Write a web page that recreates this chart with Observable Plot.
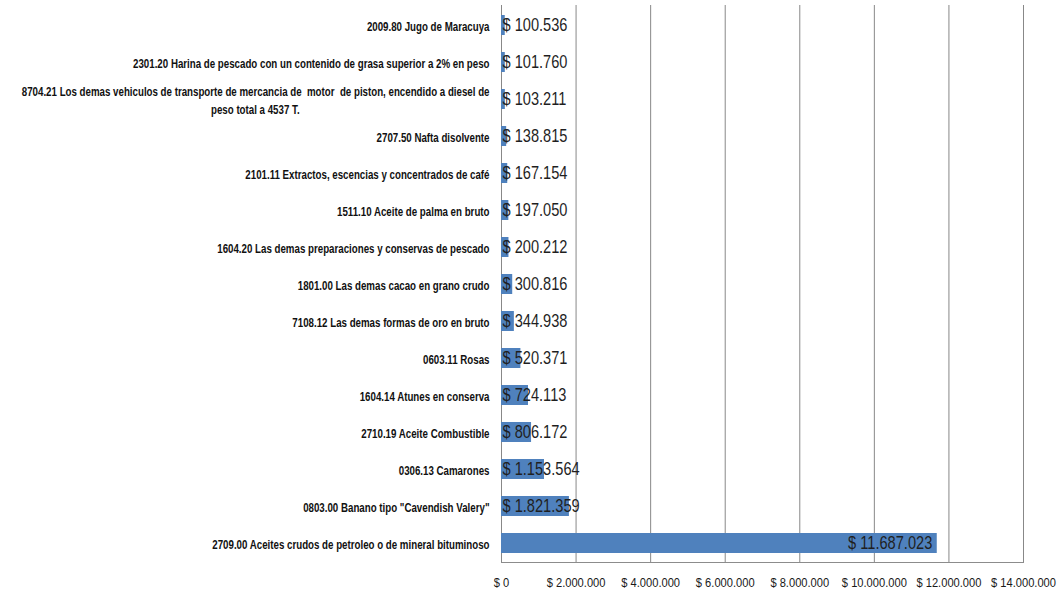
<!DOCTYPE html>
<html><head><meta charset="utf-8">
<script src="https://cdn.jsdelivr.net/npm/d3@7"></script>
<script src="https://cdn.jsdelivr.net/npm/@observablehq/plot@0.6"></script>
<style>
html,body{margin:0;padding:0;background:#fff;}
#chart{width:1061px;height:592px;}
</style></head><body><div id="chart"></div>
<script>
const products = [
  "2009.80 Jugo de Maracuya",
  "2301.20 Harina de pescado con un contenido de grasa superior a 2% en peso",
  "8704.21 Los demas vehiculos de transporte de mercancia de  motor  de piston, encendido a diesel de\npeso total a 4537 T.",
  "2707.50 Nafta disolvente",
  "2101.11 Extractos, escencias y concentrados de café",
  "1511.10 Aceite de palma en bruto",
  "1604.20 Las demas preparaciones y conservas de pescado",
  "1801.00 Las demas cacao en grano crudo",
  "7108.12 Las demas formas de oro en bruto",
  "0603.11 Rosas",
  "1604.14 Atunes en conserva",
  "2710.19 Aceite Combustible",
  "0306.13 Camarones",
  "0803.00 Banano tipo \"Cavendish Valery\"",
  "2709.00 Aceites crudos de petroleo o de mineral bituminoso"
];
const values = [100536, 101760, 103211, 138815, 167154, 197050, 200212, 300816, 344938, 520371, 724113, 806172, 1153564, 1821359, 11687023];
const xTicks = [0, 2000000, 4000000, 6000000, 8000000, 10000000, 12000000, 14000000];

const data = products.map((p, i) => ({product: p, value: values[i]}));
const fmt = v => "$ " + d3.format(",")(v).replace(/,/g, ".");
const font = "'Liberation Sans', Arial, sans-serif";
const maxV = d3.max(values);

const chart = Plot.plot({
  width: 1061, height: 592,
  marginLeft: 501, marginRight: 38, marginTop: 5, marginBottom: 30,
  style: {fontFamily: font, background: "#fff", overflow: "visible"},
  x: {domain: [0, 14000000], ticks: xTicks, label: null},
  y: {domain: products, paddingInner: 0.46, paddingOuter: 0.23, label: null},
  marks: [
    Plot.gridX(xTicks, {stroke: "#888888", strokeOpacity: 1}),
    Plot.frame({anchor: "bottom", stroke: "#8c8c8c"}),
    Plot.barX(data, {x: "value", y: "product", fill: "#4F81BD"}),
    Plot.text(data.filter(d => d.value < maxV * 0.5), {x: 0, y: "product", text: d => fmt(d.value), textAnchor: "start", dx: 1, fontSize: 17.5, fill: "#1f1f1f", className: "vals"}),
    Plot.text(data.filter(d => d.value >= maxV * 0.5), {x: "value", y: "product", text: d => fmt(d.value), textAnchor: "end", dx: -5, fontSize: 17.5, fill: "#1f1f1f", className: "vals"}),
    Plot.axisX(xTicks, {tickSize: 0, tickPadding: 15, tickFormat: fmt, fontSize: 13, fill: "#1a1a1a", label: null, className: "xax"}),
    Plot.axisY({tickSize: 0, tickPadding: 12, fontSize: 13.5, fontWeight: "bold", fill: "#111", lineHeight: 1.35, label: null, className: "yax"})
  ]
});
document.getElementById("chart").appendChild(chart);

// horizontally condense texts (the original uses a narrow, squeezed font)
function squeeze(texts, factor) {
  texts.forEach(t => {
    t.setAttribute("transform", (t.getAttribute("transform") || "") + ` scale(${factor},1)`);
  });
}
const uniqY = Array.from(new Set(chart.querySelectorAll(".yax text")));
// reference: the "2301.20 ..." label spans about 357px
const refLabel = uniqY.find(t => t.textContent.startsWith("2301.20"));
const yFactor = refLabel ? 357 / refLabel.getComputedTextLength() : 0.75;
uniqY.forEach(t => {
  const spans = t.querySelectorAll("tspan");
  if (spans.length > 1) {
    const w = spans[0].getComputedTextLength();
    for (let i = 1; i < spans.length; i++) {
      spans[i].setAttribute("x", -w / 2);
      spans[i].setAttribute("text-anchor", "middle");
    }
  }
});
squeeze(uniqY, yFactor);
const xTexts = Array.from(new Set(chart.querySelectorAll(".xax text")));
const refX = xTexts.find(t => t.textContent === "$ 14.000.000");
if (refX) squeeze(xTexts, 65 / refX.getComputedTextLength());
const vTexts = Array.from(new Set(chart.querySelectorAll(".vals text")));
const refV = vTexts.find(t => t.textContent === "$ 100.536");
if (refV) squeeze(vTexts, 65 / refV.getComputedTextLength());
</script>
</body></html>
